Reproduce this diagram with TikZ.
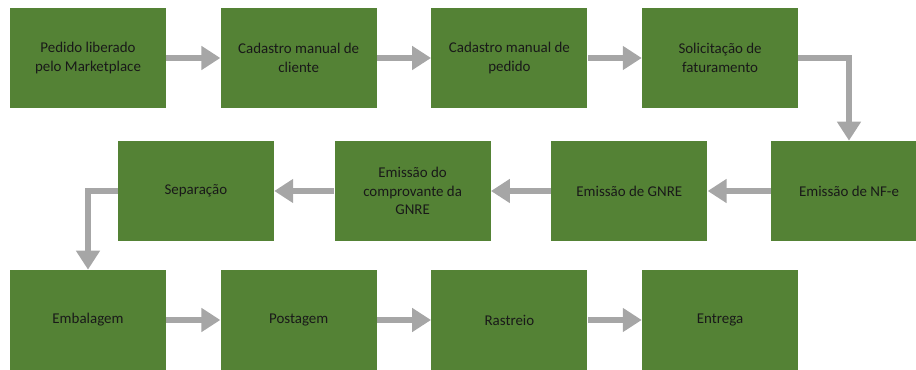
\documentclass[tikz,border=0pt]{standalone}
\usepackage{fontspec}
\setmainfont{Carlito}
\usepackage{tikz}
\usetikzlibrary{arrows.meta,positioning}
\definecolor{stepgreen}{HTML}{548235}
\definecolor{flowgray}{HTML}{A6A6A6}

\begin{document}
\begin{tikzpicture}[x=1cm,y=1cm,
    stepbox/.style={fill=stepgreen,draw=none,minimum width=3.12cm,minimum height=2.0cm,
      align=center,font=\fontsize{8.5}{10.5}\selectfont,text=black!90},
    flow/.style={draw=flowgray,line width=3.4pt,-{Triangle[length=0.38cm,width=0.46cm]}}]
  \useasboundingbox (0,0) rectangle (18.32,-7.4);
  % first row
  \node[stepbox] (ped) at (1.76,-1.16) {Pedido liberado\\pelo Marketplace};
  \node[stepbox,right=1.08cm of ped] (cli) {Cadastro manual de\\cliente};
  \node[stepbox,right=1.08cm of cli] (cad) {Cadastro manual de\\pedido};
  \node[stepbox,right=1.08cm of cad] (sol) {Solicitação de\\faturamento};
  % second row
  \node[stepbox] (nfe) at (16.98,-3.82) {Emissão de NF-e};
  \node[stepbox,left=1.26cm of nfe] (gnre) {Emissão de GNRE};
  \node[stepbox,left=1.2cm of gnre] (comp) {Emissão do\\comprovante da\\GNRE};
  \node[stepbox,left=1.2cm of comp] (sep) {Separação};
  % third row
  \node[stepbox] (emb) at (1.76,-6.4) {Embalagem};
  \node[stepbox,right=1.08cm of emb] (post) {Postagem};
  \node[stepbox,right=1.08cm of post] (ras) {Rastreio};
  \node[stepbox,right=1.08cm of ras] (ent) {Entrega};
  % connectors
  \draw[flow] (ped) -- (cli);
  \draw[flow] (cli) -- (cad);
  \draw[flow] (cad) -- (sol);
  \draw[flow] (sol.east) -| (nfe.north);
  \draw[flow] (nfe) -- (gnre);
  \draw[flow] (gnre) -- (comp);
  \draw[flow] (comp) -- (sep);
  \draw[flow] (sep.west) -| (emb.north);
  \draw[flow] (emb) -- (post);
  \draw[flow] (post) -- (ras);
  \draw[flow] (ras) -- (ent);
\end{tikzpicture}
\end{document}
